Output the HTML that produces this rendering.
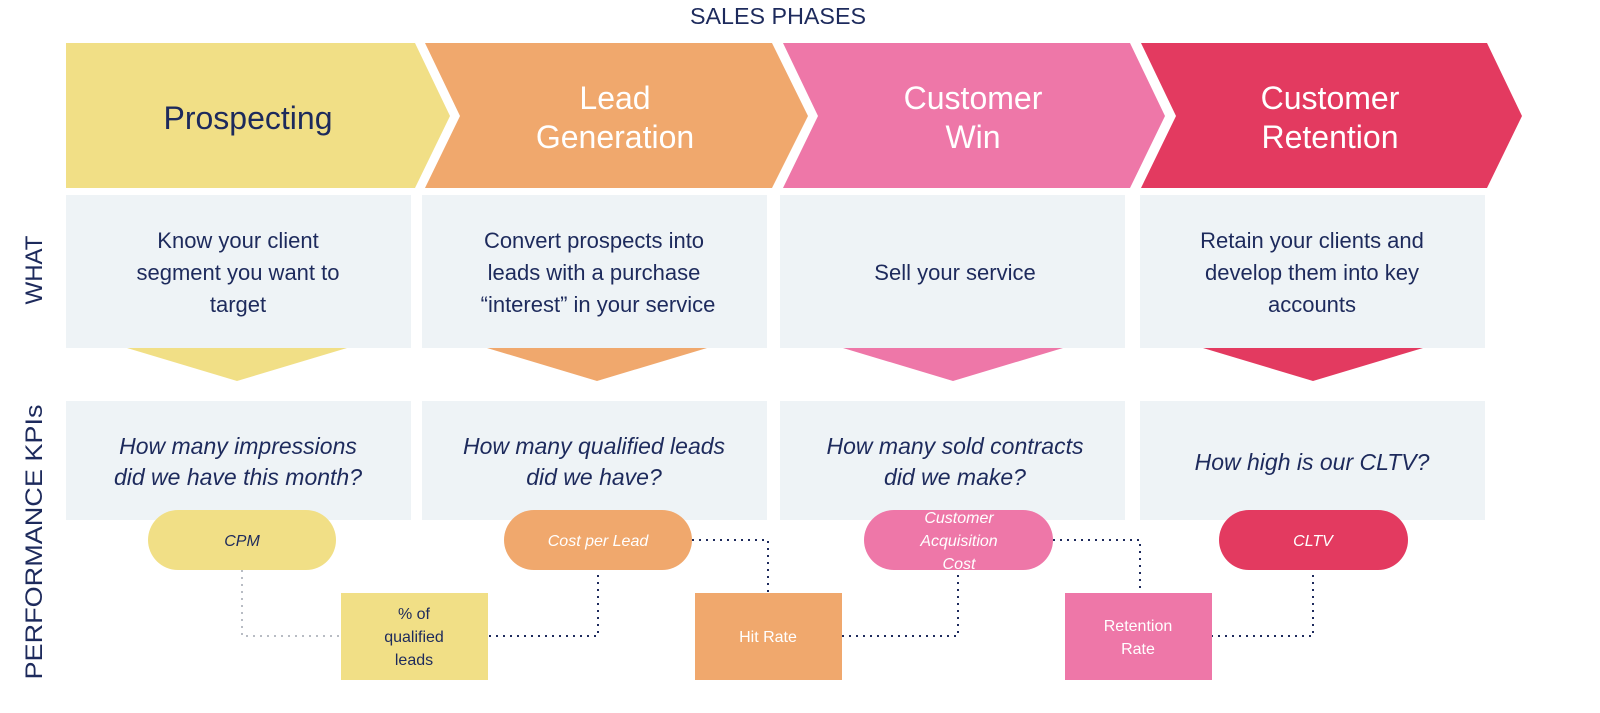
<!DOCTYPE html>
<html><head><meta charset="utf-8"><style>
html,body{margin:0;padding:0;background:#fff;}
svg{display:block;}
text{font-family:"Liberation Sans",sans-serif;}
</style></head><body>
<svg width="1600" height="713" viewBox="0 0 1600 713" xmlns="http://www.w3.org/2000/svg">
<text x="778" y="24" text-anchor="middle" font-size="23" fill="#1d2a5c" textLength="176" lengthAdjust="spacingAndGlyphs">SALES PHASES</text>
<!-- chevrons -->
<polygon points="66,43 415,43 450,116 415,188 66,188" fill="#f1df86"/>
<polygon points="425,43 772,43 808,116 772,188 425,188 460,116" fill="#f0a86d"/>
<polygon points="783,43 1130,43 1165,116 1130,188 783,188 818,116" fill="#ee77a8"/>
<polygon points="1141,43 1487,43 1522,116 1487,188 1141,188 1176,116" fill="#e33a60"/>
<g font-size="32" text-anchor="middle">
<text x="248" y="129" fill="#1d2a5c">Prospecting</text>
<text x="615" y="109" fill="#fff">Lead</text><text x="615" y="148" fill="#fff">Generation</text>
<text x="973" y="109" fill="#fff">Customer</text><text x="973" y="148" fill="#fff">Win</text>
<text x="1330" y="109" fill="#fff">Customer</text><text x="1330" y="148" fill="#fff">Retention</text>
</g>
<!-- WHAT boxes -->
<g fill="#eef3f6">
<rect x="66" y="195" width="345" height="153"/><rect x="422" y="195" width="345" height="153"/>
<rect x="780" y="195" width="345" height="153"/><rect x="1140" y="195" width="345" height="153"/>
<rect x="66" y="401" width="345" height="119"/><rect x="422" y="401" width="345" height="119"/>
<rect x="780" y="401" width="345" height="119"/><rect x="1140" y="401" width="345" height="119"/>
</g>
<polygon points="127,348 347,348 237,381" fill="#f1df86"/>
<polygon points="487,348 707,348 597,381" fill="#f0a86d"/>
<polygon points="843,348 1063,348 953,381" fill="#ee77a8"/>
<polygon points="1203,348 1423,348 1313,381" fill="#e33a60"/>
<g font-size="22" text-anchor="middle" fill="#1d2a5c">
<text x="238" y="248">Know your client</text><text x="238" y="280">segment you want to</text><text x="238" y="312">target</text>
<text x="594" y="248">Convert prospects into</text><text x="594" y="280">leads with a purchase</text><text x="598" y="312">“interest” in your service</text>
<text x="955" y="280">Sell your service</text>
<text x="1312" y="248">Retain your clients and</text><text x="1312" y="280">develop them into key</text><text x="1312" y="312">accounts</text>
</g>
<g font-size="23" font-style="italic" text-anchor="middle" fill="#1d2a5c">
<text x="238" y="454">How many impressions</text><text x="238" y="485">did we have this month?</text>
<text x="594" y="454">How many qualified leads</text><text x="594" y="485">did we have?</text>
<text x="955" y="454">How many sold contracts</text><text x="955" y="485">did we make?</text>
<text x="1312" y="470">How high is our CLTV?</text>
</g>
<!-- connectors -->
<g fill="none" stroke-width="2" stroke-dasharray="2,5">
<polyline points="242,570 242,636 341,636" stroke="#b8bcc4"/>
<polyline points="598,575 598,636 488,636" stroke="#1d2a5c"/>
<polyline points="692,540 768,540 768,593" stroke="#1d2a5c"/>
<polyline points="958,575 958,636 842,636" stroke="#1d2a5c"/>
<polyline points="1053,540 1140,540 1140,593" stroke="#1d2a5c"/>
<polyline points="1313,575 1313,636 1212,636" stroke="#1d2a5c"/>
</g>
<!-- pills -->
<rect x="148" y="510" width="188" height="60" rx="30" fill="#f1df86"/>
<rect x="504" y="510" width="188" height="60" rx="30" fill="#f0a86d"/>
<rect x="864" y="510" width="189" height="60" rx="30" fill="#ee77a8"/>
<rect x="1219" y="510" width="189" height="60" rx="30" fill="#e33a60"/>
<rect x="341" y="593" width="147" height="87" fill="#f1df86"/>
<rect x="695" y="593" width="147" height="87" fill="#f0a86d"/>
<rect x="1065" y="593" width="147" height="87" fill="#ee77a8"/>
<g font-size="16" font-style="italic" text-anchor="middle">
<text x="242" y="546" fill="#1d2a5c">CPM</text>
<text x="598" y="546" fill="#fff">Cost per Lead</text>
<text x="959" y="523" fill="#fff">Customer</text><text x="959" y="546" fill="#fff">Acquisition</text><text x="959" y="569" fill="#fff">Cost</text>
<text x="1313" y="546" fill="#fff">CLTV</text>
</g>
<g font-size="16" text-anchor="middle">
<text x="414" y="619" fill="#1d2a5c">% of</text><text x="414" y="642" fill="#1d2a5c">qualified</text><text x="414" y="665" fill="#1d2a5c">leads</text>
<text x="768" y="642" fill="#fff">Hit Rate</text>
<text x="1138" y="631" fill="#fff">Retention</text><text x="1138" y="654" fill="#fff">Rate</text>
</g>
<g font-size="24" fill="#1d2a5c" text-anchor="middle">
<text transform="translate(42,270) rotate(-90)">WHAT</text>
<text transform="translate(42,542) rotate(-90)" textLength="275" lengthAdjust="spacingAndGlyphs">PERFORMANCE KPIs</text>
</g>
</svg>
</body></html>
